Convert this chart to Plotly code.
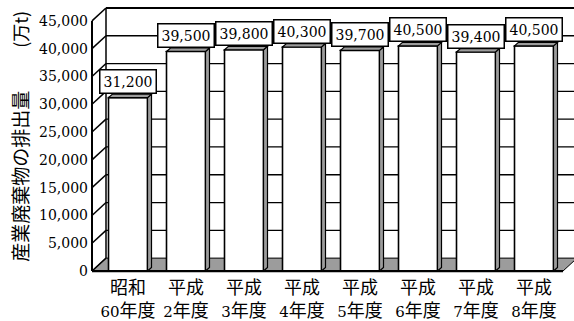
import plotly.graph_objects as go

# Industrial waste output, 10,000 t
eras = ["昭和", "平成", "平成", "平成", "平成", "平成", "平成", "平成"]
years = ["60", "2", "3", "4", "5", "6", "7", "8"]
values = [31200, 39500, 39800, 40300, 39700, 40500, 39400, 40500]
y_ticks = [0, 5000, 10000, 15000, 20000, 25000, 30000, 35000, 40000, 45000]

categories = [f"{e}<br><span style='font-size:15px'>{y}</span>年度"
              for e, y in zip(eras, years)]

W, H = 574, 321
# plot area in pixels
L, R, T, B = 89, 574, 4, 277
# pixel scales: category pitch and value per pixel
X0_PX, PITCH = 128.0, 58.0
ZERO_PX, TOP_PX, YMAX = 273.0, 21.0, 45000.0
VPP = YMAX / (ZERO_PX - TOP_PX)

x_range = [(L - X0_PX) / PITCH, (R - X0_PX) / PITCH]
y_range = [(ZERO_PX - B) * VPP, (ZERO_PX - T) * VPP]

# depth of the chart box and of each bar (data units)
DX, DY = 14 / PITCH, 13 * VPP
BAR_W = 39 / PITCH
BX, BY = 4 / PITCH, 3.5 * VPP

WALL_L = -36 / PITCH          # front-left edge of the side wall
FLOOR_R = 435 / PITCH          # front-right corner of the floor
BACK_R = x_range[1] + 1

FONT = "DejaVu Serif, Noto Sans CJK JP"
CJK = "Noto Sans CJK JP"
HATCH = "#9c9c9c"
xs = list(range(len(values)))

fig = go.Figure()
fig.add_trace(go.Bar(
    x=xs, y=values, width=BAR_W,
    marker=dict(color="white", line=dict(color="black", width=1.6)),
    hoverinfo="skip",
))

shapes = []
line_k = dict(color="black", width=1.5)

# floor
shapes.append(dict(type="path", layer="below",
                   path=f"M {WALL_L},0 L {FLOOR_R},0 L {FLOOR_R + DX},{DY} L {WALL_L + DX},{DY} Z",
                   fillcolor=HATCH, line=dict(color="black", width=1)))
# back wall gridlines and top edge
for v in y_ticks[1:]:
    shapes.append(dict(type="line", layer="below", x0=WALL_L + DX, x1=BACK_R,
                       y0=v + DY, y1=v + DY,
                       line=dict(color="black", width=2 if v == YMAX else 1.3)))
# side wall: slanted gridlines and vertical edges
for v in y_ticks:
    shapes.append(dict(type="line", layer="below", x0=WALL_L, x1=WALL_L + DX,
                       y0=v, y1=v + DY, line=line_k))
shapes.append(dict(type="line", layer="below", x0=WALL_L, x1=WALL_L, y0=0, y1=YMAX,
                   line=dict(color="black", width=2)))
shapes.append(dict(type="line", layer="below", x0=WALL_L + DX, x1=WALL_L + DX,
                   y0=DY, y1=YMAX + DY, line=line_k))
# floor front edge
shapes.append(dict(type="line", layer="above", x0=WALL_L, x1=FLOOR_R, y0=0, y1=0,
                   line=dict(color="black", width=2.2)))

# bar side and top faces
for x, v in zip(xs, values):
    xl, xr = x - BAR_W / 2, x + BAR_W / 2
    shapes.append(dict(type="path",
                       path=f"M {xr},0 L {xr + BX},{BY} L {xr + BX},{v + BY} L {xr},{v} Z",
                       fillcolor=HATCH, line=dict(color="black", width=1.2)))
    shapes.append(dict(type="path",
                       path=f"M {xl},{v} L {xl + BX},{v + BY} L {xr + BX},{v + BY} L {xr},{v} Z",
                       fillcolor=HATCH, line=dict(color="black", width=1.2)))

annotations = []
for x, v in zip(xs, values):
    annotations.append(dict(x=x, y=v + BY, xref="x", yref="y", text=f"{v:,}",
                            showarrow=False, yanchor="bottom", xanchor="center",
                            font=dict(family=FONT, size=14, color="black"),
                            bgcolor="white", bordercolor="black", borderwidth=1.5,
                            borderpad=3))

# vertical axis title
ph = B - T
annotations.append(dict(x=0, xref="paper", xanchor="center", xshift=20 - L,
                        y=(B - 178) / ph, yref="paper", yanchor="middle",
                        text="産業廃棄物の排出量", textangle=-90, showarrow=False,
                        font=dict(family=CJK, size=19, color="black")))
annotations.append(dict(x=0, xref="paper", xanchor="center", xshift=20 - L,
                        y=(B - 30) / ph, yref="paper", yanchor="middle",
                        text="(万t)", textangle=-90, showarrow=False,
                        font=dict(family=CJK, size=18, color="black")))

fig.update_layout(
    width=W, height=H,
    margin=dict(l=L, r=W - R, t=T, b=H - B, pad=0),
    paper_bgcolor="white", plot_bgcolor="white",
    showlegend=False,
    shapes=shapes, annotations=annotations,
    xaxis=dict(range=x_range, tickvals=xs, ticktext=categories, showgrid=False,
               zeroline=False, showline=False, ticks="",
               tickfont=dict(family=FONT, size=18, color="black")),
    yaxis=dict(range=y_range, tickvals=y_ticks, tickformat=",", showgrid=False,
               zeroline=False, showline=False, ticks="",
               tickfont=dict(family=FONT, size=14, color="black")),
)

fig.write_html("out.html")
